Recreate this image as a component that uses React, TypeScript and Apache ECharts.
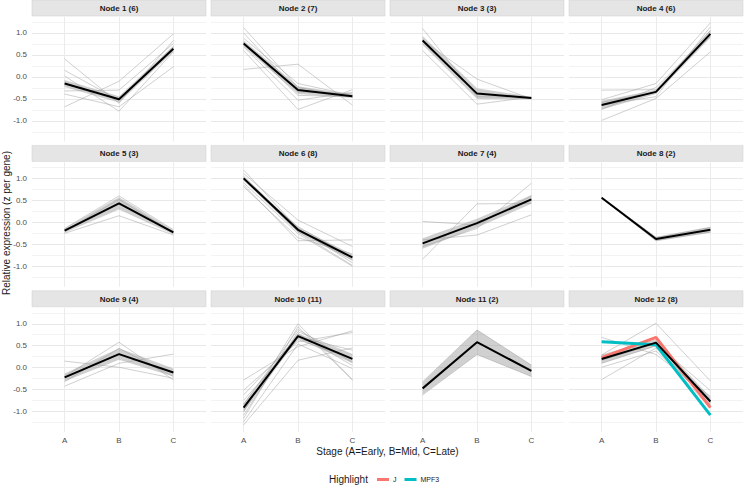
import React, { useEffect, useRef } from 'react';
import * as echarts from 'echarts';

const stages = ['A', 'B', 'C'];
const nodeTitles = [
  'Node 1 (6)', 'Node 2 (7)', 'Node 3 (3)', 'Node 4 (6)',
  'Node 5 (3)', 'Node 6 (8)', 'Node 7 (4)', 'Node 8 (2)',
  'Node 9 (4)', 'Node 10 (11)', 'Node 11 (2)', 'Node 12 (8)',
];

const node1Genes = [
  [0.41, -0.6, 0.83], [0.15, -0.53, 0.68], [0.02, -0.78, 0.57],
  [-0.32, -0.3, 0.76], [-0.39, -0.68, 0.23], [-0.68, -0.1, 0.98],
];
const node2Genes = [
  [1.12, -0.24, -0.45], [1.0, -0.34, -0.38], [0.88, -0.15, -0.42], [0.78, -0.42, -0.45],
  [0.68, -0.53, -0.35], [0.6, -0.74, -0.29], [0.17, 0.29, -0.64],
];
const node3Genes = [[1.1, -0.45, -0.47], [0.83, -0.05, -0.5], [0.6, -0.62, -0.46]];
const node4Genes = [
  [-0.3, -0.29, 0.92], [-0.52, -0.15, 1.23], [-0.58, -0.34, 1.06],
  [-0.64, -0.45, 1.14], [-0.74, -0.24, 0.98], [-0.99, -0.49, 0.57],
];
const node5Genes = [[-0.14, 0.6, -0.17], [-0.19, 0.52, -0.23], [-0.25, 0.15, -0.29]];
const node6Genes = [
  [1.19, -0.14, -0.92], [1.11, 0.05, -0.55], [1.05, -0.18, -0.86], [1.0, -0.22, -0.98],
  [0.96, -0.1, -0.8], [0.9, -0.26, -1.0], [0.85, -0.42, -0.4], [0.81, -0.35, -0.72],
];
const node7Genes = [[0.02, -0.06, 0.6], [-0.4, -0.29, 0.17], [-0.55, -0.14, 0.89], [-0.84, 0.42, 0.43]];
const node8Genes = [[0.57, -0.35, -0.12], [0.55, -0.41, -0.22]];
const node9Genes = [[0.15, 0.01, -0.24], [-0.2, 0.58, -0.28], [-0.32, 0.44, -0.2], [-0.42, 0.1, 0.31]];
const node10Genes = [
  [-0.28, 0.48, 0.84], [-0.51, 0.59, 0.8], [-0.62, 0.7, 0.4], [-0.74, 0.64, 0.2],
  [-0.83, 0.87, 0.12], [-0.92, 0.77, 0.05], [-1.0, 1.0, -0.27], [-1.08, 0.82, 0.3],
  [-1.15, 0.93, -0.28], [-1.23, 0.54, -0.02], [-1.3, 0.17, 0.45],
];
const node11Genes = [[-0.32, 0.86, 0.06], [-0.62, 0.3, -0.2]];
const node12Genes = [
  [0.69, 0.3, -0.65], [0.29, 1.01, -0.3], [0.17, 0.55, -0.52],
  [0.1, 0.5, -0.85], [0.01, 0.38, -0.78], [-0.27, 0.45, -0.92],
];
const nodeGenes = [
  node1Genes, node2Genes, node3Genes, node4Genes, node5Genes, node6Genes,
  node7Genes, node8Genes, node9Genes, node10Genes, node11Genes, node12Genes,
];

const meanLines = [
  [-0.15, -0.51, 0.64], [0.76, -0.3, -0.44], [0.83, -0.38, -0.48], [-0.64, -0.34, 0.98],
  [-0.19, 0.43, -0.23], [1.0, -0.17, -0.8], [-0.48, -0.02, 0.52], [0.56, -0.38, -0.17],
  [-0.22, 0.31, -0.11], [-0.91, 0.72, 0.2], [-0.47, 0.58, -0.07], [0.2, 0.57, -0.77],
];
const ribbonHalf = [
  [0.08, 0.07, 0.07], [0.07, 0.09, 0.04], [0.1, 0.12, 0.03], [0.1, 0.05, 0.09],
  [0.05, 0.14, 0.05], [0.05, 0.06, 0.07], [0.12, 0.1, 0.1], [0.02, 0.05, 0.07],
  [0.09, 0.13, 0.09], [0.1, 0.06, 0.1], [0.14, 0.28, 0.13], [0.1, 0.08, 0.1],
];

const highlightNames = ['J', 'MPF3'];
const highlightValues = [
  [0.23, 0.69, -0.91],
  [0.59, 0.52, -1.08],
];
const highlightColors = ['#F8766D', '#00BFC4'];
const highlightNode = 11;

const yLabelTicks = [-1, -0.5, 0, 0.5, 1];
const yGridValues = [-1.25, -1, -0.75, -0.5, -0.25, 0, 0.25, 0.5, 0.75, 1, 1.25];
const xTickValues = [0, 1, 2];

const FONT = '"Liberation Sans", Arial, Helvetica, sans-serif';

export default function App() {
  const ref = useRef<HTMLDivElement>(null);
  useEffect(() => {
    if (!ref.current) return;
    const chart = echarts.init(ref.current, null, { renderer: 'svg' });

    const colLeft = [32, 211, 390, 569];
    const panelW = 174;
    const plotTop0 = 17;
    const rowStep = 145.4;
    const plotH = 124.3;
    const stripH = 16;

    const grids: any[] = [];
    const xAxes: any[] = [];
    const yAxes: any[] = [];
    const series: any[] = [];
    const graphics: any[] = [];

    for (let i = 0; i < 12; i++) {
      const r = Math.floor(i / 4);
      const c = i % 4;
      const top = plotTop0 + r * rowStep;
      grids.push({ left: colLeft[c], top, width: panelW, height: plotH });
      xAxes.push({
        type: 'value', gridIndex: i, min: -0.6, max: 2.6,
        axisLine: { show: false },
        axisTick: { show: false, customValues: xTickValues },
        axisLabel: {
          show: r === 2, customValues: xTickValues, margin: 4,
          formatter: (v: number) => stages[Math.round(v)] ?? '',
          fontSize: 8, color: '#4d4d4d', fontFamily: FONT,
        },
        splitLine: { show: true, lineStyle: { color: '#ebebeb', width: 1 } },
      });
      yAxes.push({
        type: 'value', gridIndex: i, min: -1.465, max: 1.363,
        axisLine: { show: false },
        axisTick: { show: false, customValues: yGridValues },
        axisLabel: {
          show: c === 0, customValues: yLabelTicks, margin: 5,
          formatter: (v: number) => v.toFixed(1),
          fontSize: 8, color: '#4d4d4d', fontFamily: FONT,
        },
        splitLine: { show: true, lineStyle: { color: ['#f3f3f3', '#e8e8e8'], width: 1 } },
      });

      nodeGenes[i].forEach((g, k) => {
        series.push({
          type: 'line', name: `gene-${i}-${k}`, xAxisIndex: i, yAxisIndex: i,
          data: g.map((v, j) => [j, v]), symbol: 'none', silent: true, z: 2,
          lineStyle: { color: 'rgba(150,150,150,0.75)', width: 0.6 },
        });
      });

      const lo = meanLines[i].map((m, j) => m - ribbonHalf[i][j]);
      const hi = meanLines[i].map((m, j) => m + ribbonHalf[i][j]);
      series.push({
        type: 'custom', name: `ribbon-${i}`, xAxisIndex: i, yAxisIndex: i, silent: true, z: 3,
        data: stages.map((_, j) => [j, lo[j], hi[j]]),
        encode: { x: 0, y: [1, 2] },
        renderItem: (params: any, api: any) => {
          if (params.dataIndex !== 0) return { type: 'group', children: [] };
          const t = hi.map((v, j) => api.coord([j, v]));
          const b = lo.map((v, j) => api.coord([j, v])).reverse();
          return { type: 'polygon', shape: { points: [...t, ...b] }, style: { fill: 'rgba(150,150,150,0.45)' } };
        },
      });

      if (i === highlightNode) {
        highlightNames.forEach((nm, h) => {
          series.push({
            type: 'line', name: nm, xAxisIndex: i, yAxisIndex: i,
            data: highlightValues[h].map((v, j) => [j, v]), symbol: 'none', silent: true, z: 4,
            itemStyle: { color: highlightColors[h] },
            lineStyle: { color: highlightColors[h], width: 3 },
          });
        });
      }

      series.push({
        type: 'line', name: `mean-${i}`, xAxisIndex: i, yAxisIndex: i,
        data: meanLines[i].map((v, j) => [j, v]), symbol: 'none', silent: true, z: 5,
        lineStyle: { color: '#000000', width: 2 },
      });

      graphics.push({
        type: 'rect', silent: true,
        shape: { x: colLeft[c], y: top - 17, width: panelW, height: stripH },
        style: { fill: '#e5e5e5', stroke: '#cfcfcf', lineWidth: 0.5 },
      });
      graphics.push({
        type: 'text', silent: true,
        x: colLeft[c] + panelW / 2, y: top - 17 + stripH / 2 + 0.5,
        style: {
          text: nodeTitles[i], textAlign: 'center', textVerticalAlign: 'middle',
          fontSize: 8, fontWeight: 'bold', fontFamily: FONT, fill: '#1a1a1a',
        },
      });
    }

    graphics.push({
      type: 'text', silent: true, x: 6, y: 223, rotation: Math.PI / 2,
      style: {
        text: 'Relative expression (z per gene)', textAlign: 'center', textVerticalAlign: 'middle',
        fontSize: 10, fontFamily: FONT, fill: '#1a1a1a',
      },
    });
    graphics.push({
      type: 'text', silent: true, x: 387.5, y: 451,
      style: {
        text: 'Stage (A=Early, B=Mid, C=Late)', textAlign: 'center', textVerticalAlign: 'middle',
        fontSize: 10, fontFamily: FONT, fill: '#1a1a1a',
      },
    });
    graphics.push({
      type: 'text', silent: true, x: 329, y: 479,
      style: {
        text: 'Highlight', textAlign: 'left', textVerticalAlign: 'middle',
        fontSize: 10, fontFamily: FONT, fill: '#1a1a1a',
      },
    });

    chart.setOption({
      animation: false,
      backgroundColor: '#ffffff',
      grid: grids,
      xAxis: xAxes,
      yAxis: yAxes,
      series,
      graphic: graphics,
      legend: {
        data: highlightNames,
        left: 372, top: 471,
        icon: 'rect', itemWidth: 12, itemHeight: 3, itemGap: 8,
        selectedMode: false,
        textStyle: { fontSize: 7, color: '#1a1a1a', fontFamily: FONT, padding: [0, 0, 0, -1] },
      },
    });
    return () => chart.dispose();
  }, []);
  return <div ref={ref} style={{ position: 'fixed', left: 0, top: 0, width: 744, height: 486 }} />;
}
